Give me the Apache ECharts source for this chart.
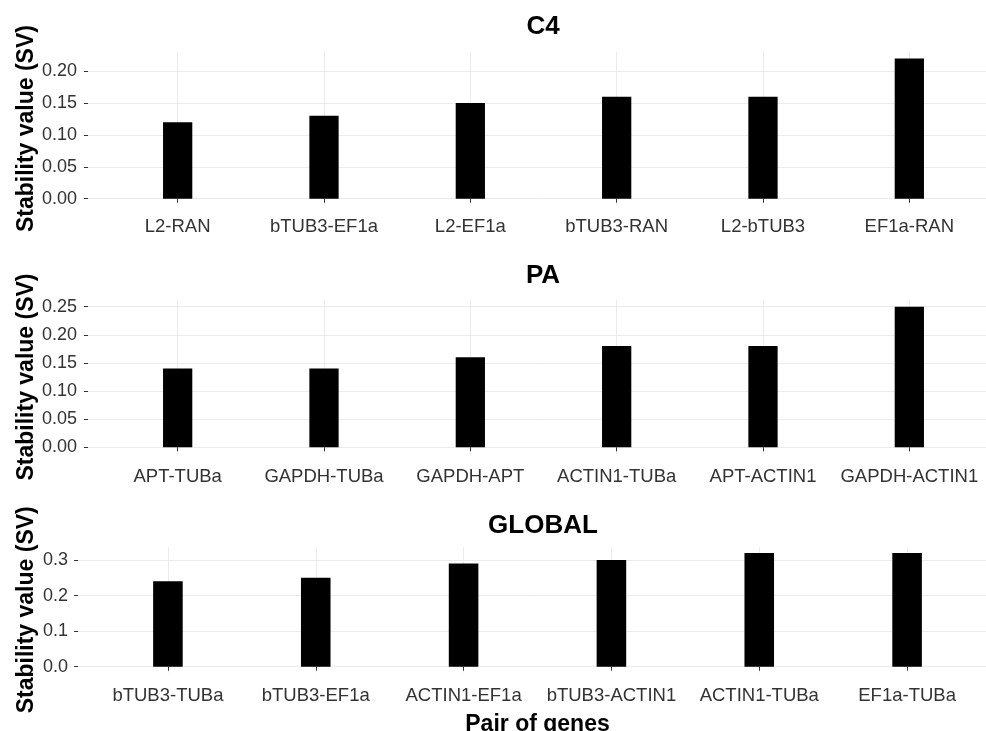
<!DOCTYPE html>
<html>
<head>
<meta charset="utf-8">
<script src="https://cdn.jsdelivr.net/npm/echarts@6/dist/echarts.min.js"></script>
<style>
html,body{margin:0;padding:0;background:#fff;}
#chart{width:986px;height:731px;}
</style>
</head>
<body>
<div id="chart"></div>
<script>
// ---- data ----
const panelTitles = ['C4', 'PA', 'GLOBAL'];
const c4Categories = ['L2-RAN', 'bTUB3-EF1a', 'L2-EF1a', 'bTUB3-RAN', 'L2-bTUB3', 'EF1a-RAN'];
const c4Values = [0.12, 0.13, 0.15, 0.16, 0.16, 0.22];
const paCategories = ['APT-TUBa', 'GAPDH-TUBa', 'GAPDH-APT', 'ACTIN1-TUBa', 'APT-ACTIN1', 'GAPDH-ACTIN1'];
const paValues = [0.14, 0.14, 0.16, 0.18, 0.18, 0.25];
const globalCategories = ['bTUB3-TUBa', 'bTUB3-EF1a', 'ACTIN1-EF1a', 'bTUB3-ACTIN1', 'ACTIN1-TUBa', 'EF1a-TUBa'];
const globalValues = [0.24, 0.25, 0.29, 0.30, 0.32, 0.32];
const c4Ticks = [0, 0.20, 0.05];      // min, max, step
const paTicks = [0, 0.25, 0.05];
const globalTicks = [0, 0.3, 0.1];
const yTitle = 'Stability value (SV)';
const xTitle = 'Pair of genes';

// ---- layout ----
const FONT = '"Liberation Sans", Arial, Helvetica, sans-serif';
const GRID_COLOR = '#ebebeb';
const LABEL_COLOR = '#333333';
const panels = [
  {cats: c4Categories, vals: c4Values, ticks: c4Ticks, digits: 2, zeroY: 198.7, pxPerUnit: 637.5,
   titleTop: 14, labelMargin: 12, bgLeft: 88, labelGap: 11, barLeft: 104.5, barWidth: 878},
  {cats: paCategories, vals: paValues, ticks: paTicks, digits: 2, zeroY: 447.3, pxPerUnit: 562.4,
   titleTop: 263, labelMargin: 13, bgLeft: 88, labelGap: 11, barLeft: 104.5, barWidth: 878},
  {cats: globalCategories, vals: globalValues, ticks: globalTicks, digits: 1, zeroY: 666.7, pxPerUnit: 355.6,
   titleTop: 513, labelMargin: 14, bgLeft: 78, labelGap: 10, barLeft: 94, barWidth: 887}
];
const Y_TITLE_X = 24.5;

const grid = [], xAxis = [], yAxis = [], series = [], title = [];
panels.forEach((p, i) => {
  const dmax = Math.max(...p.vals);
  const top = dmax * 1.05, bot = -dmax * 0.05;
  const gTop = p.zeroY - top * p.pxPerUnit;
  const gBot = p.zeroY - bot * p.pxPerUnit;
  // background grid: value ticks/labels and horizontal grid lines
  grid.push({left: p.bgLeft, width: 930, top: p.zeroY - p.ticks[1] * p.pxPerUnit,
             height: p.ticks[1] * p.pxPerUnit, outerBoundsMode: 'none', containLabel: false});
  // bar grid
  grid.push({left: p.barLeft, width: p.barWidth, top: gTop, height: gBot - gTop,
             outerBoundsMode: 'none', containLabel: false});
  xAxis.push({gridIndex: 2 * i, type: 'value', min: 0, max: 1, show: false});
  yAxis.push({
    gridIndex: 2 * i, type: 'value', min: p.ticks[0], max: p.ticks[1], interval: p.ticks[2],
    axisLine: {show: false},
    axisTick: {show: true, length: 4, lineStyle: {color: '#333333', width: 1}},
    axisLabel: {margin: p.labelGap, fontFamily: FONT, fontSize: 18, color: LABEL_COLOR,
                formatter: v => v.toFixed(p.digits)},
    splitLine: {show: true, lineStyle: {color: GRID_COLOR, width: 1}}
  });
  xAxis.push({
    gridIndex: 2 * i + 1, type: 'category', data: p.cats,
    axisLine: {show: false},
    axisTick: {show: true, alignWithLabel: true, length: 4, lineStyle: {color: '#333333'}},
    axisLabel: {interval: 0, margin: p.labelMargin, fontFamily: FONT, fontSize: 18.5, color: LABEL_COLOR},
    splitLine: {show: true, alignWithLabel: true, lineStyle: {color: GRID_COLOR, width: 1}},
    name: i === 2 ? xTitle : '',
    nameLocation: 'middle', nameGap: 41,
    nameTextStyle: {fontFamily: FONT, fontSize: 23, fontWeight: 'bold', color: '#000'}
  });
  yAxis.push({
    gridIndex: 2 * i + 1, type: 'value', min: bot, max: top,
    axisLine: {show: false}, axisTick: {show: false}, axisLabel: {show: false}, splitLine: {show: false},
    name: yTitle, nameLocation: 'middle', nameGap: p.barLeft - Y_TITLE_X - 14, nameRotate: 90,
    nameTextStyle: {fontFamily: FONT, fontSize: 23, fontWeight: 'bold', color: '#000'}
  });
  series.push({
    type: 'bar', xAxisIndex: 2 * i + 1, yAxisIndex: 2 * i + 1,
    data: p.vals, barWidth: '20%', itemStyle: {color: '#000000'}, silent: true
  });
  title.push({
    text: panelTitles[i], left: 543, top: p.titleTop, textAlign: 'center', padding: 0,
    textStyle: {fontFamily: FONT, fontSize: 26, fontWeight: 'bold', color: '#000'}
  });
});

const chart = echarts.init(document.getElementById('chart'), null, {renderer: 'canvas'});
chart.setOption({animation: false, backgroundColor: '#ffffff', title, grid, xAxis, yAxis, series});
</script>
</body>
</html>
